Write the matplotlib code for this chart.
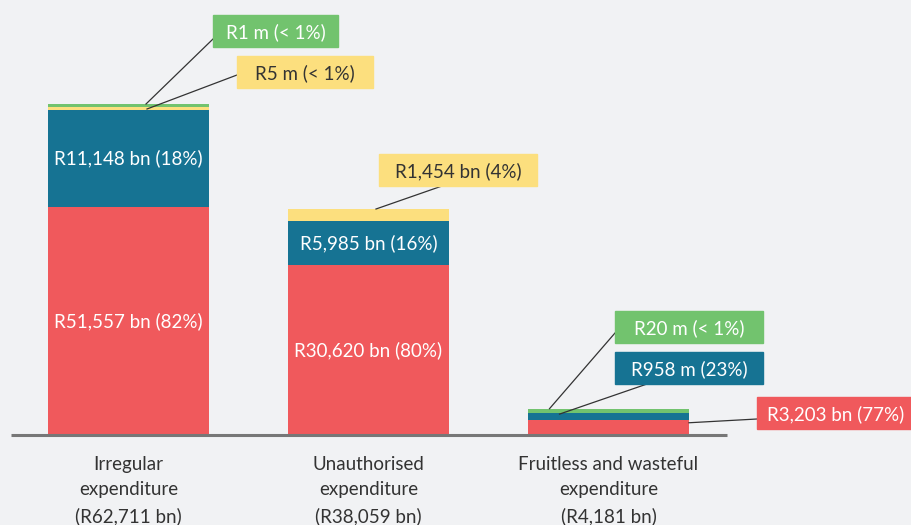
import matplotlib
matplotlib.use("Agg")
import matplotlib.pyplot as plt
from matplotlib.patches import Rectangle

# ---- data ----
categories = ["Irregular\nexpenditure\n(R62,711 bn)",
              "Unauthorised\nexpenditure\n(R38,059 bn)",
              "Fruitless and wasteful\nexpenditure\n(R4,181 bn)"]
series_names = ["red", "blue", "yellow", "green"]
# labels shown for each segment
labels_red = ["R51,557 bn (82%)", "R30,620 bn (80%)", "R3,203 bn (77%)"]
labels_blue = ["R11,148 bn (18%)", "R5,985 bn (16%)", "R958 m (23%)"]
labels_yellow = ["R5 m (< 1%)", "R1,454 bn (4%)", None]
labels_green = ["R1 m (< 1%)", None, "R20 m (< 1%)"]
# drawn segment heights as they appear in the picture (relative units)
h_red = [228, 170, 15.3]
h_blue = [97, 44, 7]
h_yellow = [3, 12, 0]
h_green = [3, 0, 4]

RED = "#F0595C"
BLUE = "#167393"
YELLOW = "#FCDF7E"
GREEN = "#72C36E"
BG = "#F1F2F4"
DARK = "#333333"
FONT = "Lato"
FS = 13.5

W, H = 912, 525
fig = plt.figure(figsize=(W / 100, H / 100), dpi=100, facecolor=BG)
ax = fig.add_axes([0, 0, 1, 1])
ax.set_facecolor(BG)
ax.set_xlim(-128.5 / 240, (W - 128.5) / 240)
ax.set_ylim(-90, H - 90)
ax.axis("off")

x = [0, 1, 2]
bw = 161 / 240
b1 = h_red
b2 = [a + b for a, b in zip(h_red, h_blue)]
b3 = [a + b for a, b in zip(b2, h_yellow)]
ax.bar(x, h_red, width=bw, color=RED, zorder=2)
ax.bar(x, h_blue, width=bw, bottom=b1, color=BLUE, zorder=2)
ax.bar(x, h_yellow, width=bw, bottom=b2, color=YELLOW, zorder=2)
ax.bar(x, h_green, width=bw, bottom=b3, color=GREEN, zorder=2)

# baseline
ax.plot([-118 / 240, (727 - 128.5) / 240], [0, 0], color="#777777", lw=2.2,
        zorder=3, solid_capstyle="butt")

# in-bar labels (first two bars)
for i in range(2):
    ax.text(x[i], h_red[i] / 2, labels_red[i], ha="center", va="center",
            color="white", fontsize=FS, family=FONT, zorder=4)
    ax.text(x[i], b1[i] + h_blue[i] / 2, labels_blue[i], ha="center", va="center",
            color="white", fontsize=FS, family=FONT, zorder=4)

# category labels
for i, c in enumerate(categories):
    ax.text(x[i], -21, c, ha="center", va="top", color=DARK, fontsize=FS,
            family=FONT, linespacing=1.6)

# overlay axes in pixel coords for callouts
ov = fig.add_axes([0, 0, 1, 1])
ov.set_xlim(0, W)
ov.set_ylim(H, 0)
ov.axis("off")
ov.patch.set_alpha(0)


def to_px(xd, yd):
    disp = ax.transData.transform((xd, yd))
    return ov.transData.inverted().transform(disp)


def callout(box, color, tcolor, text, line_start, target):
    x0, y0, x1, y1 = box
    ov.add_patch(Rectangle((x0, y0), x1 - x0, y1 - y0, color=color, zorder=5))
    ov.text((x0 + x1) / 2, (y0 + y1) / 2 + 1, text, ha="center", va="center",
            color=tcolor, fontsize=FS, family=FONT, zorder=6)
    tx, ty = to_px(*target)
    ov.plot([line_start[0], tx], [line_start[1], ty], color=DARK, lw=0.9, zorder=4)


px = 1 / 240
callout((213, 15, 338, 47), GREEN, "white", labels_green[0], (213, 39),
        (x[0] + 17.5 * px, b3[0] + h_green[0]))
callout((237, 56, 373, 88), YELLOW, DARK, labels_yellow[0], (237, 75),
        (x[0] + 18.5 * px, b2[0] + 1))
callout((379, 154, 537, 186), YELLOW, DARK, labels_yellow[1], (442, 186),
        (x[1] + 7.5 * px, b3[1]))
callout((615, 311, 763, 343), GREEN, "white", labels_green[2], (615, 333),
        (x[2] - 59 * px, b3[2] + h_green[2]))
callout((615, 352, 763, 384), BLUE, "white", labels_blue[2], (647, 384),
        (x[2] - 49 * px, b1[2] + h_blue[2] * 0.8))
callout((757, 397, 915, 429), RED, "white", labels_red[2], (757, 419),
        (x[2] + bw / 2, h_red[2] * 0.8))

fig.savefig("out.png", dpi=100, facecolor=BG)
